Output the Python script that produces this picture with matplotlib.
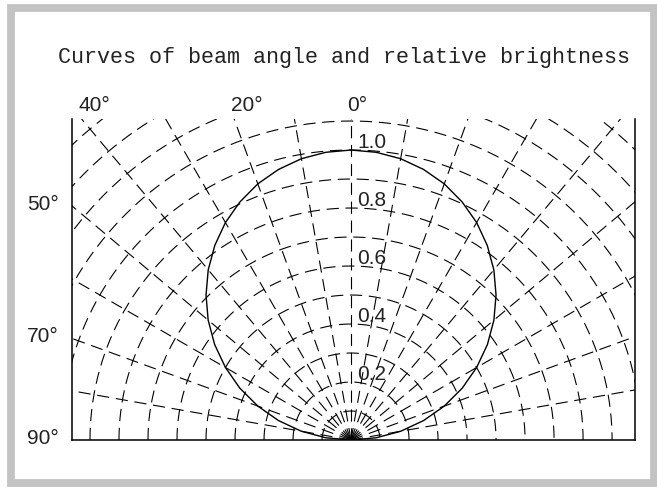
import numpy as np
import matplotlib
matplotlib.use("Agg")
import matplotlib.pyplot as plt
from matplotlib.patches import Rectangle

# data
title = "Curves of beam angle and relative brightness"
grid_angles = list(range(-90, 91, 10))          # dashed radial lines (deg)
grid_radii = [round(0.1 * i, 1) for i in range(1, 16)]   # dashed arcs
top_labels = [-40, -20, 0]                      # labels on top edge
side_labels = [-50, -70, -90]                   # labels on left edge
radius_labels = [0.2, 0.4, 0.6, 0.8, 1.0]

# relative brightness vs beam angle
beam_angle = [-90, -85, -80, -75, -70, -65, -60, -55, -50, -45, -40, -35, -30, -25, -20, -15, -10, -5,
              0, 5, 10, 15, 20, 25, 30, 35, 40, 45, 50, 55, 60, 65, 70, 75, 80, 85, 90]
brightness = [0.0, 0.087, 0.174, 0.259, 0.342, 0.423, 0.5, 0.574, 0.643, 0.707, 0.766, 0.819, 0.866,
              0.906, 0.94, 0.966, 0.985, 0.996,
              1.0, 0.996, 0.985, 0.966, 0.94, 0.906, 0.866, 0.819, 0.766, 0.707, 0.643, 0.574, 0.5,
              0.423, 0.342, 0.259, 0.174, 0.087, 0.0]


def to_xy(theta_deg, r):
    t = np.radians(np.asarray(theta_deg, dtype=float))
    r = np.asarray(r, dtype=float)
    return r * np.sin(t), r * np.cos(t)


W, H = 657, 489
fig = plt.figure(figsize=(W / 100, H / 100), dpi=100)

# light grey picture frame
fig.patches.append(Rectangle((10.8 / W, 5.5 / H), (653.5 - 10.8) / W, (480.5 - 5.5) / H,
                             transform=fig.transFigure, fill=False,
                             edgecolor="#c3c3c3", linewidth=5.6))

x_lo, x_hi, y_top = -0.962, 0.979, 1.107
ax = fig.add_axes([72 / W, 48 / H, 563 / W, 321 / H])
ax.set_xlim(x_lo, x_hi)
ax.set_ylim(0, y_top)
ax.set_xticks([])
ax.set_yticks([])
ax.spines["top"].set_visible(False)
for s in ["left", "right", "bottom"]:
    ax.spines[s].set_linewidth(1.1)

dash = (0, (11, 6))

# radial dashed lines
for a in grid_angles:
    xs, ys = to_xy([a, a], [0, 2.0])
    ax.plot(xs, ys, color="black", lw=0.8, ls=dash)

# dashed arcs
th = np.linspace(-90, 90, 721)
for r in grid_radii:
    xs, ys = to_xy(th, np.full_like(th, r))
    ax.plot(xs, ys, color="black", lw=0.8, ls=dash)

# brightness curve
xs, ys = to_xy(beam_angle, brightness)
ax.plot(xs, ys, color="black", lw=1.0)

lab_font = dict(family="Liberation Sans", fontsize=15, color="#222222")

for r in radius_labels:
    ax.text(0.022, r + 0.012, f"{r:.1f}", ha="left", va="baseline", **lab_font)

for a in top_labels:
    xh = y_top * np.tan(np.radians(a))
    ax.text(xh - 0.012, y_top + 0.05, f"{abs(a)}°", ha="left", va="center",
            clip_on=False, **lab_font)

for a in side_labels:
    t = np.radians(abs(a))
    yh = -x_lo * np.cos(t) / np.sin(t)
    ax.text(-1.008, yh + 0.01, f"{abs(a)}°", ha="right", va="center",
            clip_on=False, **lab_font)

fig.text(58 / W, (H - 63) / H, title, ha="left", va="baseline",
         family="Liberation Mono", fontsize=15.7, color="#222222")

fig.savefig("out.png", dpi=100)
